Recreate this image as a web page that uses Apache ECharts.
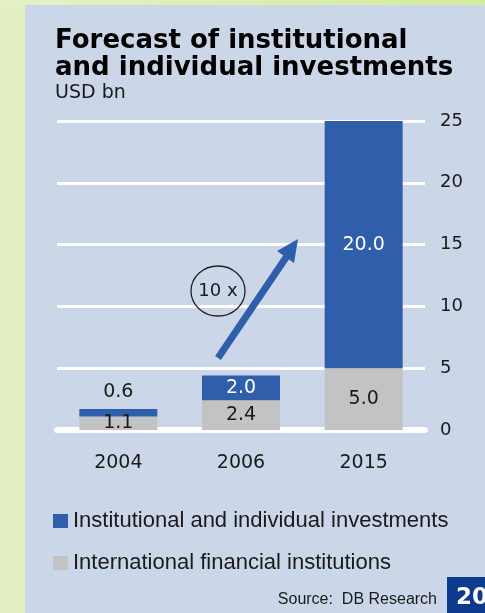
<!DOCTYPE html>
<html>
<head>
<meta charset="utf-8">
<script src="https://cdn.jsdelivr.net/npm/echarts@6/dist/echarts.min.js"></script>
<style>
  body { margin: 0; width: 485px; height: 613px; background: #e2f0c4; position: relative; overflow: hidden; }
  #top { position: absolute; left: 0; top: 0; width: 485px; height: 5px; background: linear-gradient(to right, #e4f1c8, #d6ea9c); }
  #panel { position: absolute; left: 25px; top: 5px; width: 460px; height: 608px; background: #cbd7e9; }
  #chart { position: absolute; left: 0; top: 0; width: 485px; height: 613px; }
</style>
</head>
<body>
<div id="top"></div>
<div id="panel"></div>
<div id="chart"></div>
<script>
// data
var years = ['2004', '2006', '2015']
var intlFinancial = [1.1, 2.4, 5.0]
var instIndividual = [0.6, 2.0, 20.0]
var yTicks = [0, 5, 10, 15, 20, 25]

var blue = '#2f5eab'
var grey = '#c3c3c3'
var font = 'Liberation Sans, Arial, sans-serif'
var wide = 'DejaVu Sans, sans-serif'

var chart = echarts.init(document.getElementById('chart'))
var option = {
  backgroundColor: 'transparent',
  animation: false,
  textStyle: { fontFamily: wide },
  grid: { left: 57, right: 60, top: 121, bottom: 183 },
  legend: {
    orient: 'vertical',
    left: 53,
    top: 510,
    padding: 0,
    itemWidth: 15,
    itemHeight: 14,
    itemGap: 20,
    icon: 'rect',
    data: ['Institutional and individual investments', 'International financial institutions'],
    textStyle: { fontSize: 22, color: '#1a1a1a', fontFamily: font }
  },
  xAxis: {
    type: 'category',
    data: years,
    axisTick: { show: false },
    axisLine: { show: true, z: 5, lineStyle: { color: '#ffffff', width: 6, cap: 'round' } },
    axisLabel: { fontSize: 19, color: '#1a1a1a', margin: 24, fontFamily: wide }
  },
  yAxis: {
    type: 'value',
    position: 'right',
    min: yTicks[0],
    max: yTicks[yTicks.length - 1],
    interval: 5,
    axisLine: { show: false },
    axisTick: { show: false },
    axisLabel: { fontSize: 18, color: '#1a1a1a', margin: 15, align: 'left', fontFamily: wide },
    splitLine: { lineStyle: { color: '#ffffff', width: 3 } }
  },
  series: [
    {
      name: 'International financial institutions',
      type: 'bar',
      stack: 'total',
      barWidth: 78,
      itemStyle: { color: grey },
      label: {
        show: true,
        position: 'inside',
        fontSize: 19,
        fontFamily: wide,
        color: '#1a1a1a',
        formatter: function(p) { return p.value.toFixed(1) }
      },
      data: intlFinancial
    },
    {
      name: 'Institutional and individual investments',
      type: 'bar',
      stack: 'total',
      barWidth: 78,
      itemStyle: { color: blue },
      label: {
        show: true,
        position: 'inside',
        fontSize: 19,
        fontFamily: wide,
        color: '#ffffff',
        formatter: function(p) { return p.value.toFixed(1) }
      },
      data: instIndividual.map(function(v, i) {
        // the small 2004 value sits above its bar
        if (i === 0) {
          return { value: v, label: { position: 'top', color: '#1a1a1a', distance: 7 } }
        }
        return v
      })
    }
  ],
  graphic: [
    {
      type: 'text',
      left: 55,
      top: 28,
      style: {
        text: 'Forecast of institutional\nand individual investments',
        font: 'bold 26px ' + wide,
        fill: '#000000',
        lineHeight: 27
      }
    },
    {
      type: 'text',
      left: 55,
      top: 84,
      style: { text: 'USD bn', font: '19px ' + wide, fill: '#1a1a1a' }
    },
    // growth arrow
    {
      type: 'line',
      shape: { x1: 218, y1: 358, x2: 287, y2: 256 },
      style: { stroke: blue, lineWidth: 7 },
      z: 10
    },
    {
      type: 'polygon',
      shape: { points: [[298, 239], [294, 263], [277, 251]] },
      style: { fill: blue },
      z: 10
    },
    {
      type: 'ellipse',
      shape: { cx: 218, cy: 291, rx: 27, ry: 25 },
      style: { fill: 'none', stroke: '#222222', lineWidth: 1.3 },
      z: 10
    },
    {
      type: 'text',
      x: 218,
      y: 291,
      style: { text: '10 x', font: '18px ' + wide, fill: '#1a1a1a', align: 'center', verticalAlign: 'middle' },
      z: 10
    },
    {
      type: 'text',
      x: 437,
      y: 600,
      style: { text: 'Source:  DB Research', font: '16px ' + font, fill: '#1a1a1a', align: 'right', verticalAlign: 'middle' }
    },
    {
      type: 'rect',
      shape: { x: 447, y: 577, width: 40, height: 38 },
      style: { fill: '#0b3a8e' }
    },
    {
      type: 'text',
      x: 456,
      y: 598,
      style: { text: '20', font: 'bold 23px ' + wide, fill: '#ffffff', verticalAlign: 'middle' },
      z: 10
    }
  ]
}
chart.setOption(option)
</script>
</body>
</html>
